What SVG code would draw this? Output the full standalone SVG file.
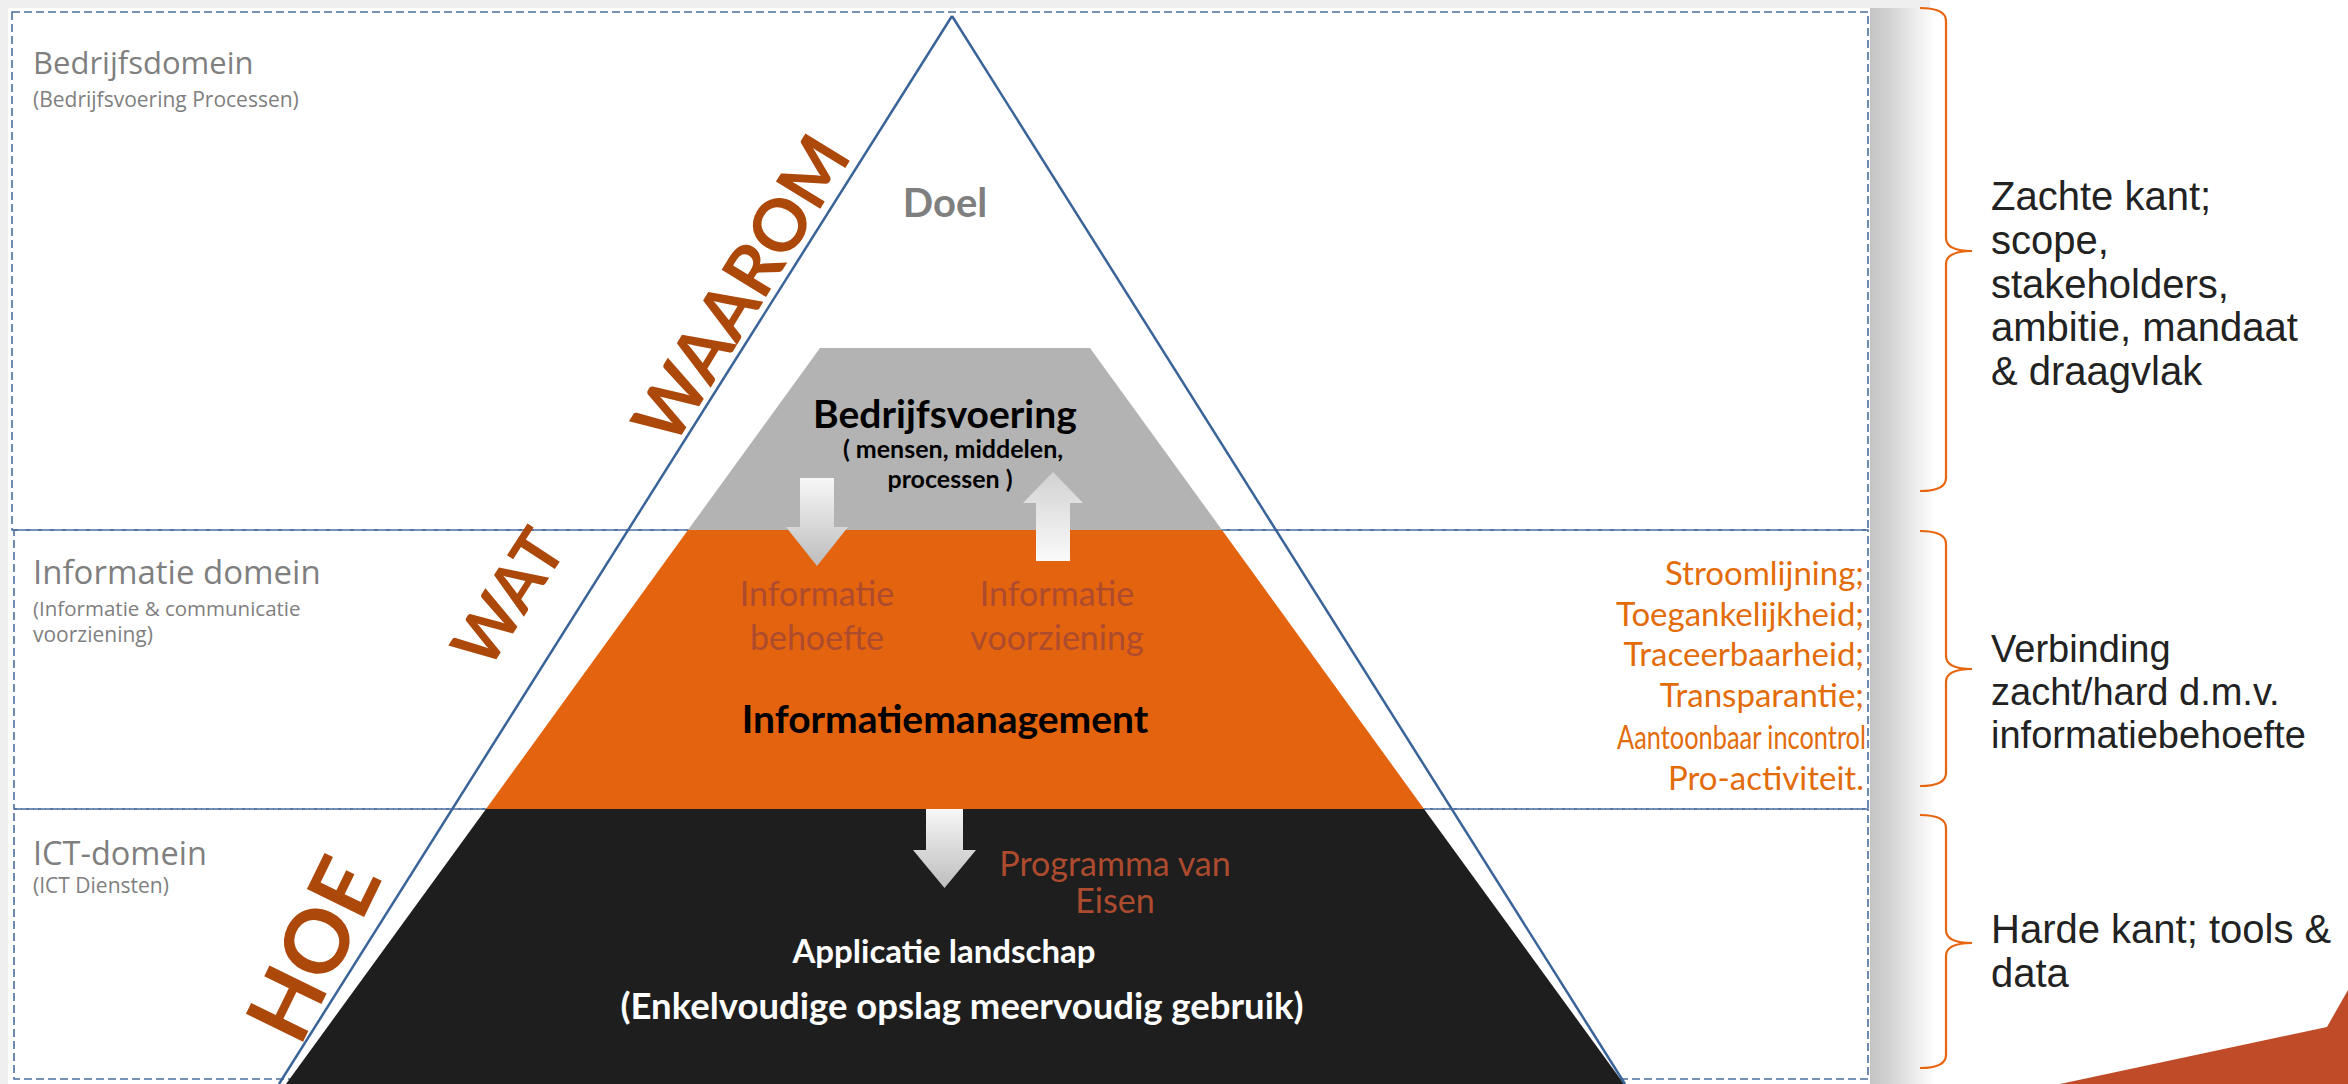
<svg xmlns="http://www.w3.org/2000/svg" width="2348" height="1084" viewBox="0 0 2348 1084">
<style>
.zone{fill:none;stroke:#4a6fa0;stroke-width:1.6;stroke-dasharray:8 4}
.dom{font-family:"Open Sans","Noto Sans",sans-serif;fill:#7f7f7f}
.big{font-size:31px}
.sub{font-size:21px}
.lat{font-family:Lato,"Open Sans",sans-serif}
.why{font-family:Lato,"Open Sans",sans-serif;font-weight:bold;fill:#ad480b}
.ttl{font-weight:bold;font-size:39px;text-anchor:middle}
.flow{font-size:34px;text-anchor:middle;fill:#ad4b2e}
.lst{font-family:Lato,"Open Sans",sans-serif;font-size:33px;fill:#e36c0a;text-anchor:end}
.rt{font-family:"Liberation Sans",Arial,sans-serif;font-size:40px;fill:#222222}
.rt2{font-family:"Liberation Sans",Arial,sans-serif;font-size:38px;fill:#222222}
.brk{fill:none;stroke:#e8650f;stroke-width:2.2}
.tri{fill:none;stroke:#3a6499;stroke-width:2.5}
</style>
<defs>
<linearGradient id="shadow" x1="0" y1="0" x2="1" y2="0">
<stop offset="0" stop-color="#c4c4c4"/>
<stop offset="0.35" stop-color="#d6d6d6"/>
<stop offset="1" stop-color="#ffffff"/>
</linearGradient>
<linearGradient id="arrDown" x1="0" y1="0" x2="0" y2="1">
<stop offset="0" stop-color="#f7f7f7"/>
<stop offset="1" stop-color="#bdbdbd"/>
</linearGradient>
<linearGradient id="arrUp" x1="0" y1="0" x2="0" y2="1">
<stop offset="0" stop-color="#d2d2d2"/>
<stop offset="1" stop-color="#fafafa"/>
</linearGradient>
</defs>
<rect width="2348" height="1084" fill="#ffffff"/>
<rect x="0" y="0" width="1930" height="8" fill="#efefef"/>
<rect x="0" y="0" width="8" height="1084" fill="#efefef"/>
<rect x="1870" y="8" width="65" height="1076" fill="url(#shadow)"/>

<g id="zone-bedrijf">
<rect class="zone" x="12" y="12" width="1856" height="518"/>
<text class="dom big" x="33" y="74">Bedrijfsdomein</text>
<text class="dom sub" x="33" y="107">(Bedrijfsvoering Processen)</text>
</g>
<g id="zone-informatie">
<rect class="zone" x="14" y="530" width="1854" height="279"/>
<text class="dom" x="33" y="584" font-size="33">Informatie domein</text>
<text class="dom" x="33" y="616" font-size="20.5">(Informatie &amp; communicatie</text>
<text class="dom sub" x="33" y="642">voorziening)</text>
</g>
<g id="zone-ict">
<rect class="zone" x="14" y="809" width="1854" height="270"/>
<text class="dom" x="33" y="865" font-size="32.5">ICT-domein</text>
<text class="dom sub" x="33" y="893">(ICT Diensten)</text>
</g>

<g id="layer-bedrijfsvoering">
<polygon points="820,348 1090,348 1222,530 688,530" fill="#b3b3b3"/>
<text class="lat ttl" x="945" y="428" fill="#000">Bedrijfsvoering</text>
<text class="lat" x="953" y="458" font-size="25" font-weight="bold" text-anchor="middle" fill="#000">( mensen, middelen,</text>
<text class="lat" x="950" y="488" font-size="25" font-weight="bold" text-anchor="middle" fill="#000">processen )</text>
</g>
<g id="layer-informatiemanagement">
<polygon points="688,530 1222,530 1424,809 486,809" fill="#e3630f"/>
<text class="lat ttl" x="945" y="733" font-size="40" fill="#000">Informatiemanagement</text>
<text class="lat flow" x="817" y="606">Informatie</text>
<text class="lat flow" x="817" y="650">behoefte</text>
<text class="lat flow" x="1057" y="606">Informatie</text>
<text class="lat flow" x="1057" y="650">voorziening</text>
</g>
<g id="layer-applicatie">
<polygon points="486,809 1424,809 1624,1084 286,1084" fill="#1e1e1e"/>
<text class="lat flow" x="1115" y="876" font-size="32" fill="#a83d2c">Programma van</text>
<text class="lat flow" x="1115" y="913" font-size="32" fill="#a83d2c">Eisen</text>
<text class="lat" x="944" y="963" font-size="33" font-weight="bold" text-anchor="middle" fill="#ffffff">Applicatie landschap</text>
<text class="lat" x="962" y="1019" font-size="36.5" font-weight="bold" text-anchor="middle" fill="#ffffff">(Enkelvoudige opslag meervoudig gebruik)</text>
</g>
<g id="layer-doel">
<text class="lat" x="945" y="217" font-size="40" font-weight="bold" text-anchor="middle" fill="#7f7f7f">Doel</text>
</g>

<g id="pyramid-outline">
<line class="tri" x1="952" y1="16" x2="279" y2="1084"/>
<line class="tri" x1="952" y1="16" x2="1625" y2="1084"/>
</g>

<g id="connectors">
<polygon points="800,478 834,478 834,527 848,527 817,566 786,527 800,527" fill="url(#arrDown)"/>
<polygon points="1053,472 1083,503 1070,503 1070,561 1036,561 1036,503 1023,503" fill="url(#arrUp)"/>
<polygon points="926,809 963,809 963,850 976,850 944.5,888 913,850 926,850" fill="url(#arrDown)"/>
</g>

<g id="labels-why">
<text class="why" font-size="72" transform="translate(673,449) rotate(-58.5)">WAAROM</text>
<text class="why" font-size="66" transform="translate(488,672) rotate(-57)">WAT</text>
<text class="why" font-size="88" transform="translate(300,1048) rotate(-64)">HOE</text>
</g>

<g id="list-informatie">
<text class="lst" x="1864" y="585">Stroomlijning;</text>
<text class="lst" x="1864" y="626">Toegankelijkheid;</text>
<text class="lst" x="1864" y="666">Traceerbaarheid;</text>
<text class="lst" x="1864" y="707">Transparantie;</text>
<text class="lst" x="1866" y="749" textLength="249" lengthAdjust="spacingAndGlyphs">Aantoonbaar incontrol</text>
<text class="lst" x="1864" y="790">Pro-activiteit.</text>
</g>

<g id="brace-zacht">
<path class="brk" d="M1920,8 Q1946,8 1946,21 L1946,238 Q1946,251 1972,251 Q1946,251 1946,264 L1946,478 Q1946,491 1920,491"/>
<text class="rt" x="1991" y="210">Zachte kant;</text>
<text class="rt" x="1991" y="254">scope,</text>
<text class="rt" x="1991" y="298">stakeholders,</text>
<text class="rt" x="1991" y="341">ambitie, mandaat</text>
<text class="rt" x="1991" y="385">&amp; draagvlak</text>
</g>
<g id="brace-verbinding">
<path class="brk" d="M1920,531 Q1946,531 1946,544 L1946,656 Q1946,669 1972,669 Q1946,669 1946,682 L1946,773 Q1946,786 1920,786"/>
<text class="rt2" x="1991" y="662">Verbinding</text>
<text class="rt2" x="1991" y="705">zacht/hard d.m.v.</text>
<text class="rt2" x="1991" y="748">informatiebehoefte</text>
</g>
<g id="brace-hard">
<path class="brk" d="M1920,815 Q1946,815 1946,828 L1946,930 Q1946,943 1972,943 Q1946,943 1946,956 L1946,1055 Q1946,1068 1920,1068"/>
<text class="rt" x="1991" y="943">Harde kant; tools &amp;</text>
<text class="rt" x="1991" y="987">data</text>
</g>

<polygon id="corner-shape" points="2060,1084 2327,1027 2348,990 2348,1084" fill="#c04b28"/>
</svg>
